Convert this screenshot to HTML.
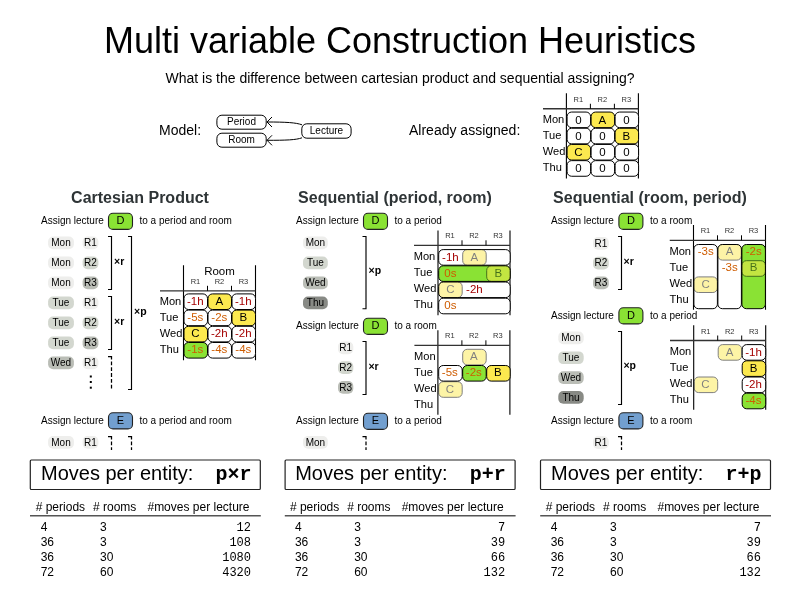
<!DOCTYPE html>
<html><head><meta charset="utf-8">
<style>
html,body{margin:0;padding:0;background:#fff;width:800px;height:600px;overflow:hidden}
svg{display:block;will-change:transform}
text{font-family:"Liberation Sans",sans-serif;fill:#000}
</style></head><body>
<svg width="800" height="600" viewBox="0 0 800 600">
<text x="400.00" y="53.00" text-anchor="middle" style="font-size:36px">Multi variable Construction Heuristics</text>
<text x="400.00" y="83.00" text-anchor="middle" style="font-size:14px">What is the difference between cartesian product and sequential assigning?</text>
<text x="159.00" y="135.00" style="font-size:14px">Model:</text>
<rect x="216.90" y="115.20" width="49.30" height="14.00" rx="5" fill="#fff" stroke="#000" stroke-width="1"/>
<text x="241.50" y="124.70" text-anchor="middle" style="font-size:10px">Period</text>
<rect x="216.90" y="133.20" width="49.30" height="14.00" rx="5" fill="#fff" stroke="#000" stroke-width="1"/>
<text x="241.50" y="142.80" text-anchor="middle" style="font-size:10px">Room</text>
<rect x="301.80" y="123.80" width="49.30" height="14.40" rx="5" fill="#fff" stroke="#000" stroke-width="1"/>
<text x="326.50" y="133.60" text-anchor="middle" style="font-size:10px">Lecture</text>
<path d="M302,124.8 C296,122.6 286,122 267,122 M302,137.8 C296,140 286,140.3 267,140.3" stroke="#000" stroke-width="1" fill="none"/>
<path d="M272,117 L267,122 L272,127 M272,135.3 L267,140.3 L272,145.3" stroke="#000" stroke-width="1" fill="none"/>
<text x="409.00" y="135.00" style="font-size:14px">Already assigned:</text>
<path d="M566.4,93.3 V178.5 M638.4,93.3 V178.5" stroke="#000" stroke-width="1.1" fill="none"/>
<path d="M543,108.75 H638.4" stroke="#333" stroke-width="1.3" fill="none"/>
<path d="M590.4,103.75 V108.75 M614.4,103.75 V108.75" stroke="#000" stroke-width="1" fill="none"/>
<text x="578.40" y="101.75" text-anchor="middle" style="font-size:7.5px;fill:#333">R1</text>
<text x="602.40" y="101.75" text-anchor="middle" style="font-size:7.5px;fill:#333">R2</text>
<text x="626.40" y="101.75" text-anchor="middle" style="font-size:7.5px;fill:#333">R3</text>
<text x="542.70" y="123.25" style="font-size:11.1px">Mon</text>
<text x="542.70" y="139.25" style="font-size:11.1px">Tue</text>
<text x="542.70" y="155.25" style="font-size:11.1px">Wed</text>
<text x="542.70" y="171.25" style="font-size:11.1px">Thu</text>
<rect x="567.10" y="112.05" width="23.50" height="15.60" rx="4.5" fill="#fff" stroke="#000" stroke-width="1.0"/>
<text x="578.40" y="123.55" text-anchor="middle" style="font-size:11.5px;fill:#000">0</text>
<rect x="591.10" y="112.05" width="23.50" height="15.60" rx="4.5" fill="#fce94f" stroke="#000" stroke-width="1.0"/>
<text x="602.40" y="123.55" text-anchor="middle" style="font-size:11.5px;fill:#000">A</text>
<rect x="615.10" y="112.05" width="23.50" height="15.60" rx="4.5" fill="#fff" stroke="#000" stroke-width="1.0"/>
<text x="626.40" y="123.55" text-anchor="middle" style="font-size:11.5px;fill:#000">0</text>
<rect x="567.10" y="128.25" width="23.50" height="15.60" rx="4.5" fill="#fff" stroke="#000" stroke-width="1.0"/>
<text x="578.40" y="139.75" text-anchor="middle" style="font-size:11.5px;fill:#000">0</text>
<rect x="591.10" y="128.25" width="23.50" height="15.60" rx="4.5" fill="#fff" stroke="#000" stroke-width="1.0"/>
<text x="602.40" y="139.75" text-anchor="middle" style="font-size:11.5px;fill:#000">0</text>
<rect x="615.10" y="128.25" width="23.50" height="15.60" rx="4.5" fill="#fce94f" stroke="#000" stroke-width="1.0"/>
<text x="626.40" y="139.75" text-anchor="middle" style="font-size:11.5px;fill:#000">B</text>
<rect x="567.10" y="144.45" width="23.50" height="15.60" rx="4.5" fill="#fce94f" stroke="#000" stroke-width="1.0"/>
<text x="578.40" y="155.95" text-anchor="middle" style="font-size:11.5px;fill:#000">C</text>
<rect x="591.10" y="144.45" width="23.50" height="15.60" rx="4.5" fill="#fff" stroke="#000" stroke-width="1.0"/>
<text x="602.40" y="155.95" text-anchor="middle" style="font-size:11.5px;fill:#000">0</text>
<rect x="615.10" y="144.45" width="23.50" height="15.60" rx="4.5" fill="#fff" stroke="#000" stroke-width="1.0"/>
<text x="626.40" y="155.95" text-anchor="middle" style="font-size:11.5px;fill:#000">0</text>
<rect x="567.10" y="160.65" width="23.50" height="15.60" rx="4.5" fill="#fff" stroke="#000" stroke-width="1.0"/>
<text x="578.40" y="172.15" text-anchor="middle" style="font-size:11.5px;fill:#000">0</text>
<rect x="591.10" y="160.65" width="23.50" height="15.60" rx="4.5" fill="#fff" stroke="#000" stroke-width="1.0"/>
<text x="602.40" y="172.15" text-anchor="middle" style="font-size:11.5px;fill:#000">0</text>
<rect x="615.10" y="160.65" width="23.50" height="15.60" rx="4.5" fill="#fff" stroke="#000" stroke-width="1.0"/>
<text x="626.40" y="172.15" text-anchor="middle" style="font-size:11.5px;fill:#000">0</text>
<text x="140.00" y="202.60" text-anchor="middle" style="font-size:16px;font-weight:bold;fill:#2e3436">Cartesian Product</text>
<text x="395.00" y="202.80" text-anchor="middle" style="font-size:16px;font-weight:bold;fill:#2e3436">Sequential (period, room)</text>
<text x="650.00" y="202.80" text-anchor="middle" style="font-size:16px;font-weight:bold;fill:#2e3436">Sequential (room, period)</text>
<text x="41.00" y="224.00" style="font-size:10px">Assign lecture</text>
<rect x="108.50" y="213.20" width="24.00" height="16.20" rx="4.5" fill="#8ae234" stroke="#222" stroke-width="1.1"/>
<text x="120.50" y="224.30" text-anchor="middle" style="font-size:11px">D</text>
<text x="139.50" y="224.00" style="font-size:10px">to a period and room</text>
<rect x="48.10" y="236.60" width="25.80" height="12.70" rx="5" fill="#eeeeec"/>
<text x="61.00" y="246.10" text-anchor="middle" style="font-size:10px">Mon</text>
<rect x="82.60" y="236.60" width="15.80" height="12.70" rx="5" fill="#eeeeec"/>
<text x="90.50" y="246.10" text-anchor="middle" style="font-size:10px">R1</text>
<rect x="48.10" y="256.60" width="25.80" height="12.70" rx="5" fill="#eeeeec"/>
<text x="61.00" y="266.10" text-anchor="middle" style="font-size:10px">Mon</text>
<rect x="82.60" y="256.60" width="15.80" height="12.70" rx="5" fill="#d3d7cf"/>
<text x="90.50" y="266.10" text-anchor="middle" style="font-size:10px">R2</text>
<rect x="48.10" y="276.60" width="25.80" height="12.70" rx="5" fill="#eeeeec"/>
<text x="61.00" y="286.10" text-anchor="middle" style="font-size:10px">Mon</text>
<rect x="82.60" y="276.60" width="15.80" height="12.70" rx="5" fill="#babdb6"/>
<text x="90.50" y="286.10" text-anchor="middle" style="font-size:10px">R3</text>
<rect x="48.10" y="296.60" width="25.80" height="12.70" rx="5" fill="#d3d7cf"/>
<text x="61.00" y="306.10" text-anchor="middle" style="font-size:10px">Tue</text>
<rect x="82.60" y="296.60" width="15.80" height="12.70" rx="5" fill="#eeeeec"/>
<text x="90.50" y="306.10" text-anchor="middle" style="font-size:10px">R1</text>
<rect x="48.10" y="316.60" width="25.80" height="12.70" rx="5" fill="#d3d7cf"/>
<text x="61.00" y="326.10" text-anchor="middle" style="font-size:10px">Tue</text>
<rect x="82.60" y="316.60" width="15.80" height="12.70" rx="5" fill="#d3d7cf"/>
<text x="90.50" y="326.10" text-anchor="middle" style="font-size:10px">R2</text>
<rect x="48.10" y="336.60" width="25.80" height="12.70" rx="5" fill="#d3d7cf"/>
<text x="61.00" y="346.10" text-anchor="middle" style="font-size:10px">Tue</text>
<rect x="82.60" y="336.60" width="15.80" height="12.70" rx="5" fill="#babdb6"/>
<text x="90.50" y="346.10" text-anchor="middle" style="font-size:10px">R3</text>
<rect x="48.10" y="356.60" width="25.80" height="12.70" rx="5" fill="#babdb6"/>
<text x="61.00" y="366.10" text-anchor="middle" style="font-size:10px">Wed</text>
<rect x="82.60" y="356.60" width="15.80" height="12.70" rx="5" fill="#eeeeec"/>
<text x="90.50" y="366.10" text-anchor="middle" style="font-size:10px">R1</text>
<path d="M108.0,236.5 H111.5 V289.5 H108.0" stroke="#000" stroke-width="1.15" fill="none"/>
<path d="M108.0,296.5 H111.5 V349.5 H108.0" stroke="#000" stroke-width="1.15" fill="none"/>
<path d="M108.0,356.5 H111.5 V390" stroke="#000" stroke-width="1.25" fill="none" stroke-dasharray="6.6,1.9,3.8,2,3.8,2,3.8,2,3.8,2,3.8,2,3.8,2,3.8,2"/>
<path d="M128.0,236.5 H131.5 V389.5 H128.0" stroke="#000" stroke-width="1.15" fill="none"/>
<text x="114.00" y="265.30" style="font-size:10.5px;font-weight:bold">×r</text>
<text x="114.00" y="325.30" style="font-size:10.5px;font-weight:bold">×r</text>
<text x="134.00" y="315.20" style="font-size:10.5px;font-weight:bold">×p</text>
<rect x="89.80" y="375.50" width="2.00" height="2.00" rx="0" fill="#000"/>
<rect x="89.80" y="381.00" width="2.00" height="2.00" rx="0" fill="#000"/>
<rect x="89.80" y="386.70" width="2.00" height="2.00" rx="0" fill="#000"/>
<path d="M183.5,265.25 V360.3 M255.5,265.25 V360.3" stroke="#000" stroke-width="1.1" fill="none"/>
<path d="M160,290.8 H255.5" stroke="#333" stroke-width="1.3" fill="none"/>
<path d="M207.5,285.8 V290.8 M231.5,285.8 V290.8" stroke="#000" stroke-width="1" fill="none"/>
<text x="195.50" y="283.80" text-anchor="middle" style="font-size:7.5px;fill:#333">R1</text>
<text x="219.50" y="283.80" text-anchor="middle" style="font-size:7.5px;fill:#333">R2</text>
<text x="243.50" y="283.80" text-anchor="middle" style="font-size:7.5px;fill:#333">R3</text>
<text x="159.70" y="305.30" style="font-size:11.1px">Mon</text>
<text x="159.70" y="321.30" style="font-size:11.1px">Tue</text>
<text x="159.70" y="337.30" style="font-size:11.1px">Wed</text>
<text x="159.70" y="353.30" style="font-size:11.1px">Thu</text>
<text x="219.50" y="274.70" text-anchor="middle" style="font-size:11.5px">Room</text>
<rect x="184.00" y="293.90" width="23.50" height="15.60" rx="4.5" fill="#fff" stroke="#000" stroke-width="1.0"/>
<text x="195.30" y="304.60" text-anchor="middle" style="font-size:11.5px;fill:#a40000">-1h</text>
<rect x="208.00" y="293.90" width="23.50" height="15.60" rx="4.5" fill="#fce94f" stroke="#000" stroke-width="1.0"/>
<text x="219.30" y="304.60" text-anchor="middle" style="font-size:11.5px;fill:#000">A</text>
<rect x="232.00" y="293.90" width="23.50" height="15.60" rx="4.5" fill="#fff" stroke="#000" stroke-width="1.0"/>
<text x="243.30" y="304.60" text-anchor="middle" style="font-size:11.5px;fill:#a40000">-1h</text>
<rect x="184.00" y="310.10" width="23.50" height="15.60" rx="4.5" fill="#fff" stroke="#000" stroke-width="1.0"/>
<text x="195.30" y="320.80" text-anchor="middle" style="font-size:11.5px;fill:#ce5c00">-5s</text>
<rect x="208.00" y="310.10" width="23.50" height="15.60" rx="4.5" fill="#fff" stroke="#000" stroke-width="1.0"/>
<text x="219.30" y="320.80" text-anchor="middle" style="font-size:11.5px;fill:#ce5c00">-2s</text>
<rect x="232.00" y="310.10" width="23.50" height="15.60" rx="4.5" fill="#fce94f" stroke="#000" stroke-width="1.0"/>
<text x="243.30" y="320.80" text-anchor="middle" style="font-size:11.5px;fill:#000">B</text>
<rect x="184.00" y="326.30" width="23.50" height="15.60" rx="4.5" fill="#fce94f" stroke="#000" stroke-width="1.0"/>
<text x="195.30" y="337.00" text-anchor="middle" style="font-size:11.5px;fill:#000">C</text>
<rect x="208.00" y="326.30" width="23.50" height="15.60" rx="4.5" fill="#fff" stroke="#000" stroke-width="1.0"/>
<text x="219.30" y="337.00" text-anchor="middle" style="font-size:11.5px;fill:#a40000">-2h</text>
<rect x="232.00" y="326.30" width="23.50" height="15.60" rx="4.5" fill="#fff" stroke="#000" stroke-width="1.0"/>
<text x="243.30" y="337.00" text-anchor="middle" style="font-size:11.5px;fill:#a40000">-2h</text>
<rect x="184.00" y="342.50" width="23.50" height="15.60" rx="4.5" fill="#8ae234" stroke="#000" stroke-width="1.0"/>
<text x="195.30" y="353.20" text-anchor="middle" style="font-size:11.5px;fill:#ce5c00">-1s</text>
<rect x="208.00" y="342.50" width="23.50" height="15.60" rx="4.5" fill="#fff" stroke="#000" stroke-width="1.0"/>
<text x="219.30" y="353.20" text-anchor="middle" style="font-size:11.5px;fill:#ce5c00">-4s</text>
<rect x="232.00" y="342.50" width="23.50" height="15.60" rx="4.5" fill="#fff" stroke="#000" stroke-width="1.0"/>
<text x="243.30" y="353.20" text-anchor="middle" style="font-size:11.5px;fill:#ce5c00">-4s</text>
<text x="41.00" y="423.50" style="font-size:10px">Assign lecture</text>
<rect x="108.50" y="412.70" width="24.00" height="16.20" rx="4.5" fill="#729fcf" stroke="#222" stroke-width="1.1"/>
<text x="120.50" y="423.80" text-anchor="middle" style="font-size:11px">E</text>
<text x="139.50" y="423.50" style="font-size:10px">to a period and room</text>
<rect x="48.10" y="436.10" width="25.80" height="12.70" rx="5" fill="#eeeeec"/>
<text x="61.00" y="445.60" text-anchor="middle" style="font-size:10px">Mon</text>
<rect x="82.60" y="436.10" width="15.80" height="12.70" rx="5" fill="#eeeeec"/>
<text x="90.50" y="445.60" text-anchor="middle" style="font-size:10px">R1</text>
<path d="M108.0,436.5 H111.5 V450" stroke="#000" stroke-width="1.25" fill="none" stroke-dasharray="6.6,1.9,3.8,2,3.8,2,3.8,2,3.8,2,3.8,2,3.8,2,3.8,2"/>
<path d="M128.0,436.5 H131.5 V450" stroke="#000" stroke-width="1.25" fill="none" stroke-dasharray="6.6,1.9,3.8,2,3.8,2,3.8,2,3.8,2,3.8,2,3.8,2,3.8,2"/>
<text x="296.00" y="224.00" style="font-size:10px">Assign lecture</text>
<rect x="363.50" y="213.20" width="24.00" height="16.20" rx="4.5" fill="#8ae234" stroke="#222" stroke-width="1.1"/>
<text x="375.50" y="224.30" text-anchor="middle" style="font-size:11px">D</text>
<text x="394.50" y="224.00" style="font-size:10px">to a period</text>
<rect x="303.00" y="236.60" width="24.80" height="12.70" rx="5" fill="#eeeeec"/>
<text x="315.40" y="246.10" text-anchor="middle" style="font-size:10px">Mon</text>
<rect x="303.00" y="256.60" width="24.80" height="12.70" rx="5" fill="#d3d7cf"/>
<text x="315.40" y="266.10" text-anchor="middle" style="font-size:10px">Tue</text>
<rect x="303.00" y="276.60" width="24.80" height="12.70" rx="5" fill="#babdb6"/>
<text x="315.40" y="286.10" text-anchor="middle" style="font-size:10px">Wed</text>
<rect x="303.00" y="296.60" width="24.80" height="12.70" rx="5" fill="#888a85"/>
<text x="315.40" y="306.10" text-anchor="middle" style="font-size:10px">Thu</text>
<path d="M362.5,236.5 H366.0 V308.75 H362.5" stroke="#000" stroke-width="1.15" fill="none"/>
<text x="368.50" y="274.30" style="font-size:10.5px;font-weight:bold">×p</text>
<path d="M438,230.5 V315.2 M510,230.5 V315.2" stroke="#000" stroke-width="1.1" fill="none"/>
<path d="M414,245.3 H510" stroke="#333" stroke-width="1.3" fill="none"/>
<path d="M462,240.3 V245.3 M486,240.3 V245.3" stroke="#000" stroke-width="1" fill="none"/>
<text x="450.00" y="238.30" text-anchor="middle" style="font-size:7.5px;fill:#333">R1</text>
<text x="474.00" y="238.30" text-anchor="middle" style="font-size:7.5px;fill:#333">R2</text>
<text x="498.00" y="238.30" text-anchor="middle" style="font-size:7.5px;fill:#333">R3</text>
<text x="413.70" y="259.80" style="font-size:11.1px">Mon</text>
<text x="413.70" y="275.80" style="font-size:11.1px">Tue</text>
<text x="413.70" y="291.80" style="font-size:11.1px">Wed</text>
<text x="413.70" y="307.80" style="font-size:11.1px">Thu</text>
<rect x="438.70" y="249.60" width="71.50" height="15.60" rx="4.5" fill="#fff" stroke="#000" stroke-width="1.0"/>
<rect x="438.70" y="265.80" width="71.50" height="15.60" rx="4.5" fill="#8ae234" stroke="#000" stroke-width="1.0"/>
<rect x="438.70" y="282.00" width="71.50" height="15.60" rx="4.5" fill="#fff" stroke="#000" stroke-width="1.0"/>
<rect x="438.70" y="298.20" width="71.50" height="15.60" rx="4.5" fill="#fff" stroke="#000" stroke-width="1.0"/>
<text x="450.40" y="260.50" text-anchor="middle" style="font-size:11.5px;fill:#a40000">-1h</text>
<g opacity="0.5">
<rect x="462.70" y="249.60" width="23.50" height="15.60" rx="4.5" fill="#fce94f" stroke="#000" stroke-width="1.0"/>
<text x="474.40" y="260.50" text-anchor="middle" style="font-size:11.5px;fill:#000">A</text>
</g>
<text x="450.40" y="276.70" text-anchor="middle" style="font-size:11.5px;fill:#ce5c00">0s</text>
<g opacity="0.5">
<rect x="486.70" y="265.80" width="23.50" height="15.60" rx="4.5" fill="#fce94f" stroke="#000" stroke-width="1.0"/>
<text x="498.40" y="276.70" text-anchor="middle" style="font-size:11.5px;fill:#000">B</text>
</g>
<g opacity="0.5">
<rect x="438.70" y="282.00" width="23.50" height="15.60" rx="4.5" fill="#fce94f" stroke="#000" stroke-width="1.0"/>
<text x="450.40" y="292.90" text-anchor="middle" style="font-size:11.5px;fill:#000">C</text>
</g>
<text x="474.40" y="292.90" text-anchor="middle" style="font-size:11.5px;fill:#a40000">-2h</text>
<text x="450.40" y="309.10" text-anchor="middle" style="font-size:11.5px;fill:#ce5c00">0s</text>
<text x="296.00" y="329.00" style="font-size:10px">Assign lecture</text>
<rect x="363.50" y="318.20" width="24.00" height="16.20" rx="4.5" fill="#8ae234" stroke="#222" stroke-width="1.1"/>
<text x="375.50" y="329.30" text-anchor="middle" style="font-size:11px">D</text>
<text x="394.50" y="329.00" style="font-size:10px">to a room</text>
<rect x="338.00" y="341.60" width="15.30" height="12.70" rx="5" fill="#eeeeec"/>
<text x="345.65" y="351.10" text-anchor="middle" style="font-size:10px">R1</text>
<rect x="338.00" y="361.30" width="15.30" height="12.70" rx="5" fill="#d3d7cf"/>
<text x="345.65" y="370.80" text-anchor="middle" style="font-size:10px">R2</text>
<rect x="338.00" y="381.00" width="15.30" height="12.70" rx="5" fill="#babdb6"/>
<text x="345.65" y="390.50" text-anchor="middle" style="font-size:10px">R3</text>
<path d="M362.5,341.5 H366.0 V394.5 H362.5" stroke="#000" stroke-width="1.15" fill="none"/>
<text x="368.40" y="370.20" style="font-size:10.5px;font-weight:bold">×r</text>
<path d="M437.9,330.3 V414.7 M509.9,330.3 V414.7" stroke="#000" stroke-width="1.1" fill="none"/>
<path d="M414.4,345.3 H509.9" stroke="#333" stroke-width="1.3" fill="none"/>
<path d="M461.9,340.3 V345.3 M485.9,340.3 V345.3" stroke="#000" stroke-width="1" fill="none"/>
<text x="449.90" y="338.30" text-anchor="middle" style="font-size:7.5px;fill:#333">R1</text>
<text x="473.90" y="338.30" text-anchor="middle" style="font-size:7.5px;fill:#333">R2</text>
<text x="497.90" y="338.30" text-anchor="middle" style="font-size:7.5px;fill:#333">R3</text>
<text x="414.10" y="359.80" style="font-size:11.1px">Mon</text>
<text x="414.10" y="375.80" style="font-size:11.1px">Tue</text>
<text x="414.10" y="391.80" style="font-size:11.1px">Wed</text>
<text x="414.10" y="407.80" style="font-size:11.1px">Thu</text>
<g opacity="0.5">
<rect x="462.70" y="349.30" width="23.50" height="15.60" rx="4.5" fill="#fce94f" stroke="#000" stroke-width="1.0"/>
<text x="473.80" y="360.10" text-anchor="middle" style="font-size:11.5px;fill:#000">A</text>
</g>
<rect x="438.70" y="365.50" width="23.50" height="15.60" rx="4.5" fill="#fff" stroke="#000" stroke-width="1.0"/>
<text x="449.80" y="376.30" text-anchor="middle" style="font-size:11.5px;fill:#ce5c00">-5s</text>
<rect x="462.70" y="365.50" width="23.50" height="15.60" rx="4.5" fill="#8ae234" stroke="#000" stroke-width="1.0"/>
<text x="473.80" y="376.30" text-anchor="middle" style="font-size:11.5px;fill:#ce5c00">-2s</text>
<rect x="486.70" y="365.50" width="23.50" height="15.60" rx="4.5" fill="#fce94f" stroke="#000" stroke-width="1.0"/>
<text x="497.80" y="376.30" text-anchor="middle" style="font-size:11.5px;fill:#000">B</text>
<g opacity="0.5">
<rect x="438.70" y="381.70" width="23.50" height="15.60" rx="4.5" fill="#fce94f" stroke="#000" stroke-width="1.0"/>
<text x="449.80" y="392.50" text-anchor="middle" style="font-size:11.5px;fill:#000">C</text>
</g>
<text x="296.00" y="424.00" style="font-size:10px">Assign lecture</text>
<rect x="363.50" y="413.20" width="24.00" height="16.20" rx="4.5" fill="#729fcf" stroke="#222" stroke-width="1.1"/>
<text x="375.50" y="424.30" text-anchor="middle" style="font-size:11px">E</text>
<text x="394.50" y="424.00" style="font-size:10px">to a period</text>
<rect x="303.00" y="436.10" width="24.80" height="12.70" rx="5" fill="#eeeeec"/>
<text x="315.40" y="445.60" text-anchor="middle" style="font-size:10px">Mon</text>
<path d="M362.5,436.5 H366.0 V450" stroke="#000" stroke-width="1.25" fill="none" stroke-dasharray="6.6,1.9,3.8,2,3.8,2,3.8,2,3.8,2,3.8,2,3.8,2,3.8,2"/>
<text x="551.00" y="224.00" style="font-size:10px">Assign lecture</text>
<rect x="618.90" y="213.20" width="24.00" height="16.20" rx="4.5" fill="#8ae234" stroke="#222" stroke-width="1.1"/>
<text x="630.90" y="224.30" text-anchor="middle" style="font-size:11px">D</text>
<text x="650.00" y="224.00" style="font-size:10px">to a room</text>
<rect x="593.00" y="237.00" width="15.80" height="12.70" rx="5" fill="#eeeeec"/>
<text x="600.90" y="246.50" text-anchor="middle" style="font-size:10px">R1</text>
<rect x="593.00" y="256.75" width="15.80" height="12.70" rx="5" fill="#d3d7cf"/>
<text x="600.90" y="266.25" text-anchor="middle" style="font-size:10px">R2</text>
<rect x="593.00" y="276.50" width="15.80" height="12.70" rx="5" fill="#babdb6"/>
<text x="600.90" y="286.00" text-anchor="middle" style="font-size:10px">R3</text>
<path d="M618.0,236.5 H621.5 V289.5 H618.0" stroke="#000" stroke-width="1.15" fill="none"/>
<text x="623.60" y="265.20" style="font-size:10.5px;font-weight:bold">×r</text>
<path d="M693.5,224.9 V309.75 M765.5,224.9 V309.75" stroke="#000" stroke-width="1.1" fill="none"/>
<path d="M669.75,240.3 H765.5" stroke="#333" stroke-width="1.3" fill="none"/>
<path d="M717.5,235.3 V240.3 M741.5,235.3 V240.3" stroke="#000" stroke-width="1" fill="none"/>
<text x="705.50" y="233.30" text-anchor="middle" style="font-size:7.5px;fill:#333">R1</text>
<text x="729.50" y="233.30" text-anchor="middle" style="font-size:7.5px;fill:#333">R2</text>
<text x="753.50" y="233.30" text-anchor="middle" style="font-size:7.5px;fill:#333">R3</text>
<text x="669.45" y="254.80" style="font-size:11.1px">Mon</text>
<text x="669.45" y="270.80" style="font-size:11.1px">Tue</text>
<text x="669.45" y="286.80" style="font-size:11.1px">Wed</text>
<text x="669.45" y="302.80" style="font-size:11.1px">Thu</text>
<rect x="693.90" y="244.50" width="23.50" height="64.20" rx="4.5" fill="#fff" stroke="#000" stroke-width="1.0"/>
<rect x="717.90" y="244.50" width="23.50" height="64.20" rx="4.5" fill="#fff" stroke="#000" stroke-width="1.0"/>
<rect x="741.90" y="244.50" width="23.50" height="64.20" rx="4.5" fill="#8ae234" stroke="#000" stroke-width="1.0"/>
<text x="705.70" y="255.10" text-anchor="middle" style="font-size:11.5px;fill:#ce5c00">-3s</text>
<g opacity="0.5">
<rect x="693.90" y="276.90" width="23.50" height="15.60" rx="4.5" fill="#fce94f" stroke="#000" stroke-width="1.0"/>
<text x="705.70" y="287.50" text-anchor="middle" style="font-size:11.5px;fill:#000">C</text>
</g>
<g opacity="0.5">
<rect x="717.90" y="244.50" width="23.50" height="15.60" rx="4.5" fill="#fce94f" stroke="#000" stroke-width="1.0"/>
<text x="729.70" y="255.10" text-anchor="middle" style="font-size:11.5px;fill:#000">A</text>
</g>
<text x="729.70" y="271.30" text-anchor="middle" style="font-size:11.5px;fill:#ce5c00">-3s</text>
<text x="753.70" y="255.10" text-anchor="middle" style="font-size:11.5px;fill:#ce5c00">-2s</text>
<g opacity="0.5">
<rect x="741.90" y="260.70" width="23.50" height="15.60" rx="4.5" fill="#fce94f" stroke="#000" stroke-width="1.0"/>
<text x="753.70" y="271.30" text-anchor="middle" style="font-size:11.5px;fill:#000">B</text>
</g>
<text x="551.00" y="318.50" style="font-size:10px">Assign lecture</text>
<rect x="618.90" y="307.70" width="24.00" height="16.20" rx="4.5" fill="#8ae234" stroke="#222" stroke-width="1.1"/>
<text x="630.90" y="318.80" text-anchor="middle" style="font-size:11px">D</text>
<text x="650.00" y="318.50" style="font-size:10px">to a period</text>
<rect x="558.30" y="331.60" width="25.40" height="12.70" rx="5" fill="#eeeeec"/>
<text x="571.00" y="341.10" text-anchor="middle" style="font-size:10px">Mon</text>
<rect x="558.30" y="351.40" width="25.40" height="12.70" rx="5" fill="#d3d7cf"/>
<text x="571.00" y="360.90" text-anchor="middle" style="font-size:10px">Tue</text>
<rect x="558.30" y="371.20" width="25.40" height="12.70" rx="5" fill="#babdb6"/>
<text x="571.00" y="380.70" text-anchor="middle" style="font-size:10px">Wed</text>
<rect x="558.30" y="391.00" width="25.40" height="12.70" rx="5" fill="#888a85"/>
<text x="571.00" y="400.50" text-anchor="middle" style="font-size:10px">Thu</text>
<path d="M618.0,331.5 H621.5 V404.5 H618.0" stroke="#000" stroke-width="1.15" fill="none"/>
<text x="623.40" y="369.30" style="font-size:10.5px;font-weight:bold">×p</text>
<path d="M693.7,325.3 V409.7 M765.7,325.3 V409.7" stroke="#000" stroke-width="1.1" fill="none"/>
<path d="M670,340.5 H765.7" stroke="#333" stroke-width="1.3" fill="none"/>
<path d="M717.7,335.5 V340.5 M741.7,335.5 V340.5" stroke="#000" stroke-width="1" fill="none"/>
<text x="705.70" y="333.50" text-anchor="middle" style="font-size:7.5px;fill:#333">R1</text>
<text x="729.70" y="333.50" text-anchor="middle" style="font-size:7.5px;fill:#333">R2</text>
<text x="753.70" y="333.50" text-anchor="middle" style="font-size:7.5px;fill:#333">R3</text>
<text x="669.70" y="355.00" style="font-size:11.1px">Mon</text>
<text x="669.70" y="371.00" style="font-size:11.1px">Tue</text>
<text x="669.70" y="387.00" style="font-size:11.1px">Wed</text>
<text x="669.70" y="403.00" style="font-size:11.1px">Thu</text>
<g opacity="0.5">
<rect x="718.20" y="344.60" width="23.50" height="15.60" rx="4.5" fill="#fce94f" stroke="#000" stroke-width="1.0"/>
<text x="729.50" y="355.80" text-anchor="middle" style="font-size:11.5px;fill:#000">A</text>
</g>
<rect x="742.20" y="344.60" width="23.50" height="15.60" rx="4.5" fill="#fff" stroke="#000" stroke-width="1.0"/>
<text x="753.50" y="355.80" text-anchor="middle" style="font-size:11.5px;fill:#a40000">-1h</text>
<rect x="742.20" y="360.80" width="23.50" height="15.60" rx="4.5" fill="#fce94f" stroke="#000" stroke-width="1.0"/>
<text x="753.50" y="372.00" text-anchor="middle" style="font-size:11.5px;fill:#000">B</text>
<g opacity="0.5">
<rect x="694.20" y="377.00" width="23.50" height="15.60" rx="4.5" fill="#fce94f" stroke="#000" stroke-width="1.0"/>
<text x="705.50" y="388.20" text-anchor="middle" style="font-size:11.5px;fill:#000">C</text>
</g>
<rect x="742.20" y="377.00" width="23.50" height="15.60" rx="4.5" fill="#fff" stroke="#000" stroke-width="1.0"/>
<text x="753.50" y="388.20" text-anchor="middle" style="font-size:11.5px;fill:#a40000">-2h</text>
<rect x="742.20" y="393.20" width="23.50" height="15.60" rx="4.5" fill="#8ae234" stroke="#000" stroke-width="1.0"/>
<text x="753.50" y="404.40" text-anchor="middle" style="font-size:11.5px;fill:#ce5c00">-4s</text>
<text x="551.00" y="423.50" style="font-size:10px">Assign lecture</text>
<rect x="618.90" y="412.70" width="24.00" height="16.20" rx="4.5" fill="#729fcf" stroke="#222" stroke-width="1.1"/>
<text x="630.90" y="423.80" text-anchor="middle" style="font-size:11px">E</text>
<text x="650.00" y="423.50" style="font-size:10px">to a room</text>
<rect x="593.00" y="436.30" width="15.80" height="12.70" rx="5" fill="#eeeeec"/>
<text x="600.90" y="445.80" text-anchor="middle" style="font-size:10px">R1</text>
<path d="M618.0,436.5 H621.5 V450" stroke="#000" stroke-width="1.25" fill="none" stroke-dasharray="6.6,1.9,3.8,2,3.8,2,3.8,2,3.8,2,3.8,2,3.8,2,3.8,2"/>
<rect x="30.30" y="460.00" width="230.00" height="29.50" rx="1" fill="#fff" stroke="#222" stroke-width="1.2"/>
<text x="41.00" y="480.00" style="font-size:20px">Moves per entity:</text>
<text x="251.50" y="480.00" text-anchor="end" style="font-size:20px;font-weight:bold;font-family:'Liberation Mono',monospace">p×r</text>
<text x="35.70" y="510.80" style="font-size:12px"># periods</text>
<text x="93.00" y="510.80" style="font-size:12px"># rooms</text>
<text x="249.50" y="510.80" text-anchor="end" style="font-size:12px">#moves per lecture</text>
<path d="M30.0,515.8 H260.8" stroke="#555" stroke-width="1.5" fill="none"/>
<text x="40.70" y="531.00" style="font-size:12px">4</text>
<text x="100.00" y="531.00" style="font-size:12px">3</text>
<text x="251.00" y="531.00" text-anchor="end" style="font-size:12px;font-family:'Liberation Mono',monospace">12</text>
<text x="40.70" y="546.00" style="font-size:12px">36</text>
<text x="100.00" y="546.00" style="font-size:12px">3</text>
<text x="251.00" y="546.00" text-anchor="end" style="font-size:12px;font-family:'Liberation Mono',monospace">108</text>
<text x="40.70" y="561.00" style="font-size:12px">36</text>
<text x="100.00" y="561.00" style="font-size:12px">30</text>
<text x="251.00" y="561.00" text-anchor="end" style="font-size:12px;font-family:'Liberation Mono',monospace">1080</text>
<text x="40.70" y="576.00" style="font-size:12px">72</text>
<text x="100.00" y="576.00" style="font-size:12px">60</text>
<text x="251.00" y="576.00" text-anchor="end" style="font-size:12px;font-family:'Liberation Mono',monospace">4320</text>
<rect x="285.10" y="460.00" width="230.00" height="29.50" rx="1" fill="#fff" stroke="#222" stroke-width="1.2"/>
<text x="295.20" y="480.00" style="font-size:20px">Moves per entity:</text>
<text x="505.70" y="480.00" text-anchor="end" style="font-size:20px;font-weight:bold;font-family:'Liberation Mono',monospace">p+r</text>
<text x="289.90" y="510.80" style="font-size:12px"># periods</text>
<text x="347.20" y="510.80" style="font-size:12px"># rooms</text>
<text x="503.70" y="510.80" text-anchor="end" style="font-size:12px">#moves per lecture</text>
<path d="M284.8,515.8 H515.6" stroke="#555" stroke-width="1.5" fill="none"/>
<text x="294.90" y="531.00" style="font-size:12px">4</text>
<text x="354.20" y="531.00" style="font-size:12px">3</text>
<text x="505.20" y="531.00" text-anchor="end" style="font-size:12px;font-family:'Liberation Mono',monospace">7</text>
<text x="294.90" y="546.00" style="font-size:12px">36</text>
<text x="354.20" y="546.00" style="font-size:12px">3</text>
<text x="505.20" y="546.00" text-anchor="end" style="font-size:12px;font-family:'Liberation Mono',monospace">39</text>
<text x="294.90" y="561.00" style="font-size:12px">36</text>
<text x="354.20" y="561.00" style="font-size:12px">30</text>
<text x="505.20" y="561.00" text-anchor="end" style="font-size:12px;font-family:'Liberation Mono',monospace">66</text>
<text x="294.90" y="576.00" style="font-size:12px">72</text>
<text x="354.20" y="576.00" style="font-size:12px">60</text>
<text x="505.20" y="576.00" text-anchor="end" style="font-size:12px;font-family:'Liberation Mono',monospace">132</text>
<rect x="540.50" y="460.00" width="230.00" height="29.50" rx="1" fill="#fff" stroke="#222" stroke-width="1.2"/>
<text x="551.00" y="480.00" style="font-size:20px">Moves per entity:</text>
<text x="761.50" y="480.00" text-anchor="end" style="font-size:20px;font-weight:bold;font-family:'Liberation Mono',monospace">r+p</text>
<text x="545.70" y="510.80" style="font-size:12px"># periods</text>
<text x="603.00" y="510.80" style="font-size:12px"># rooms</text>
<text x="759.50" y="510.80" text-anchor="end" style="font-size:12px">#moves per lecture</text>
<path d="M540.2,515.8 H771.0" stroke="#555" stroke-width="1.5" fill="none"/>
<text x="550.70" y="531.00" style="font-size:12px">4</text>
<text x="610.00" y="531.00" style="font-size:12px">3</text>
<text x="761.00" y="531.00" text-anchor="end" style="font-size:12px;font-family:'Liberation Mono',monospace">7</text>
<text x="550.70" y="546.00" style="font-size:12px">36</text>
<text x="610.00" y="546.00" style="font-size:12px">3</text>
<text x="761.00" y="546.00" text-anchor="end" style="font-size:12px;font-family:'Liberation Mono',monospace">39</text>
<text x="550.70" y="561.00" style="font-size:12px">36</text>
<text x="610.00" y="561.00" style="font-size:12px">30</text>
<text x="761.00" y="561.00" text-anchor="end" style="font-size:12px;font-family:'Liberation Mono',monospace">66</text>
<text x="550.70" y="576.00" style="font-size:12px">72</text>
<text x="610.00" y="576.00" style="font-size:12px">60</text>
<text x="761.00" y="576.00" text-anchor="end" style="font-size:12px;font-family:'Liberation Mono',monospace">132</text>
</svg>
</body></html>
